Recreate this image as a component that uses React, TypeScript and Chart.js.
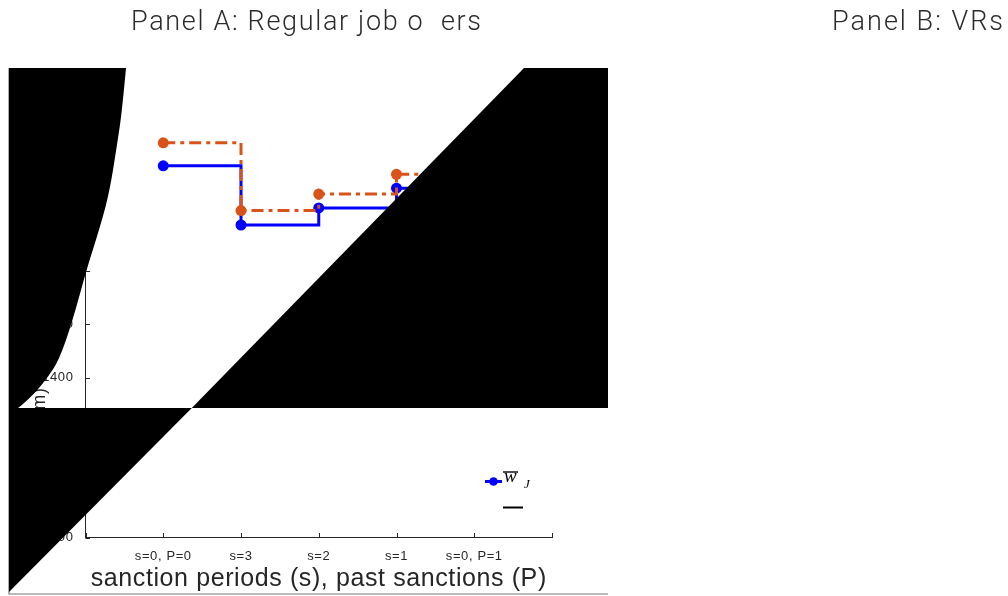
import React, { useEffect, useRef } from 'react';
import { Chart, registerables } from 'chart.js';

Chart.register(...registerables);

// ---------------- data ----------------
const xTickLabels = ['', 's=0, P=0', 's=3', 's=2', 's=1', 's=0, P=1', ''];
const xPositions = [1, 2, 3, 4, 5];
const wBarJ = [1797, 1686, 1718, 1755, 1768];
const wLowerJ = [1840, 1713, 1744, 1781, 1795];
const yLabeledTicks = [1100, 1200, 1300, 1400, 1500, 1600];
const yAxisMin = 1100;
const yAxisMax = 1980;

const panelATitle = 'Panel A: Regular job o  ers';
const panelBTitle = 'Panel B: VRs';
const xAxisTitle = 'sanction periods (s), past sanctions (P)';
const yAxisTitle = '(€/m)';

// rendering-artefact shapes (black fills), in axis data units
const blobCurveX = [0.521, 0.47, 0.41, 0.3, 0.14, 0.019, -0.174, -0.341, -0.482, -0.65, -0.817, -0.868];
const blobCurveY = [1980.3, 1900, 1840, 1740, 1660, 1605.3, 1502.2, 1432.8, 1400.9, 1370.9, 1348.4, 1342.8];
const blobEdgeX = [-0.984, -0.984];
const blobEdgeY = [1342.8, 1980.3];
const upperWedgeX = [5.64, 6.72, 6.72, 1.367];
const upperWedgeY = [1980.3, 1980.3, 1342.8, 1342.8];
const lowerWedgeX = [-0.984, 1.367, -0.984];
const lowerWedgeY = [1342.8, 1342.8, 997.8];
const frameX = [-0.984, -0.984, 6.72];
const frameY = [1980.3, 994.1, 994.1];

const sans = '"Liberation Sans", Arial, Helvetica, sans-serif';
const ink = '#262626';
const blue = '#0000FF';
const orange = '#D95319';

function fitText(ctx: CanvasRenderingContext2D, text: string, x0: number, x1: number, baseline: number) {
  (ctx as any).letterSpacing = '0px';
  const w = ctx.measureText(text).width;
  const n = Array.from(text).length;
  const sp = (x1 - x0 - w) / Math.max(1, n - 1);
  (ctx as any).letterSpacing = sp + 'px';
  ctx.textAlign = 'left';
  ctx.textBaseline = 'alphabetic';
  ctx.fillText(text, x0, baseline);
  (ctx as any).letterSpacing = '0px';
}

const artefactPlugin = {
  id: 'artefacts',
  beforeDraw(chart: any) {
    chart.ctx.letterSpacing = '0.6px';
  },
  afterDraw(chart: any) {
    const { ctx, chartArea } = chart;
    const xs = chart.scales.x;
    const ys = chart.scales.y;
    const px = (v: number) => xs.getPixelForValue(v);
    const py = (v: number) => ys.getPixelForValue(v);
    ctx.save();
    ctx.letterSpacing = '0px';

    // inward tick marks
    ctx.strokeStyle = ink;
    ctx.lineWidth = 1;
    ctx.beginPath();
    for (let v = 0; v < xTickLabels.length; v++) {
      const x = Math.round(px(v)) + 0.5;
      ctx.moveTo(x, chartArea.bottom);
      ctx.lineTo(x, chartArea.bottom - 4.5);
    }
    for (const v of yLabeledTicks) {
      const y = Math.round(py(v)) + 0.5;
      ctx.moveTo(chartArea.left, y);
      ctx.lineTo(chartArea.left + 4.5, y);
    }
    ctx.stroke();

    // y-axis title (rotated, reading upwards)
    ctx.save();
    ctx.translate(chartArea.left - 45, py(1382));
    ctx.rotate(-Math.PI / 2);
    ctx.font = `18px ${sans}`;
    ctx.fillStyle = ink;
    ctx.textAlign = 'right';
    ctx.textBaseline = 'middle';
    ctx.letterSpacing = '0.8px';
    ctx.fillText(yAxisTitle, 0, 0);
    ctx.restore();

    // legend
    const lx = chartArea.right - 67;
    const ly = chartArea.bottom - 56;
    ctx.strokeStyle = blue;
    ctx.lineWidth = 3;
    ctx.beginPath();
    ctx.moveTo(lx, ly);
    ctx.lineTo(lx + 17, ly);
    ctx.stroke();
    ctx.fillStyle = blue;
    ctx.beginPath();
    ctx.arc(lx + 8.5, ly, 4.3, 0, Math.PI * 2);
    ctx.fill();
    ctx.fillStyle = '#000';
    ctx.font = `italic 19px "Liberation Serif", "DejaVu Serif", serif`;
    ctx.textAlign = 'left';
    ctx.textBaseline = 'alphabetic';
    ctx.fillText('w', lx + 19, ly + 0.5);
    ctx.font = `italic 13px "Liberation Serif", "DejaVu Serif", serif`;
    ctx.fillText('J', lx + 39, ly + 6);
    ctx.strokeStyle = '#000';
    ctx.lineWidth = 1.4;
    ctx.beginPath();
    ctx.moveTo(lx + 18, ly - 9.5);
    ctx.lineTo(lx + 33, ly - 9.5);
    ctx.stroke();
    ctx.lineWidth = 2;
    ctx.beginPath();
    ctx.moveTo(lx + 18, ly + 26);
    ctx.lineTo(lx + 38, ly + 26);
    ctx.stroke();

    // frame lines
    ctx.strokeStyle = '#777';
    ctx.lineWidth = 1.2;
    ctx.beginPath();
    frameX.forEach((v, i) => {
      const X = px(v);
      const Y = py(frameY[i]);
      if (i === 0) ctx.moveTo(X, Y);
      else ctx.lineTo(X, Y);
    });
    ctx.stroke();

    // black artefact shapes
    ctx.fillStyle = '#000';
    const poly = (xsArr: number[], ysArr: number[]) => {
      ctx.beginPath();
      xsArr.forEach((v, i) => {
        const X = px(v);
        const Y = py(ysArr[i]);
        if (i === 0) ctx.moveTo(X, Y);
        else ctx.lineTo(X, Y);
      });
      ctx.closePath();
      ctx.fill();
    };
    // smooth curved blob on the left
    ctx.beginPath();
    const cp = blobCurveX.map((v, i) => [px(v), py(blobCurveY[i])]);
    ctx.moveTo(cp[0][0], cp[0][1]);
    for (let i = 1; i < cp.length - 1; i++) {
      const mx = (cp[i][0] + cp[i + 1][0]) / 2;
      const my = (cp[i][1] + cp[i + 1][1]) / 2;
      ctx.quadraticCurveTo(cp[i][0], cp[i][1], mx, my);
    }
    ctx.lineTo(cp[cp.length - 1][0], cp[cp.length - 1][1]);
    blobEdgeX.forEach((v, i) => ctx.lineTo(px(v), py(blobEdgeY[i])));
    ctx.closePath();
    ctx.fill();
    poly(upperWedgeX, upperWedgeY);
    poly(lowerWedgeX, lowerWedgeY);

    // panel titles
    ctx.fillStyle = '#2b2b2b';
    ctx.font = `300 27px Roboto, ${sans}`;
    fitText(ctx, panelATitle, 131, 481, 30);
    fitText(ctx, panelBTitle, 832, 1003, 30);

    ctx.restore();
  },
};

export default function App() {
  const ref = useRef<HTMLCanvasElement | null>(null);

  useEffect(() => {
    if (!ref.current) return;
    const chart = new Chart(ref.current, {
      type: 'line',
      data: {
        datasets: [
          {
            label: 'w̲_J',
            data: xPositions.map((x, i) => ({ x, y: wLowerJ[i] })),
            borderColor: orange,
            backgroundColor: orange,
            borderWidth: 3,
            borderDash: [12, 5, 4, 5],
            borderCapStyle: 'butt',
            borderJoinStyle: 'round',
            stepped: 'before',
            pointRadius: 5.5,
            pointBorderWidth: 0,
            pointBackgroundColor: orange,
            fill: false,
            order: 0,
          },
          {
            label: 'w̄_J',
            data: xPositions.map((x, i) => ({ x, y: wBarJ[i] })),
            borderColor: blue,
            backgroundColor: blue,
            borderWidth: 3,
            borderJoinStyle: 'miter',
            stepped: 'before',
            pointRadius: 5.5,
            pointBorderWidth: 0,
            pointBackgroundColor: blue,
            fill: false,
            order: 1,
          },
        ],
      },
      options: {
        animation: false,
        responsive: true,
        maintainAspectRatio: false,
        layout: { padding: { left: 0, right: 456, top: 68.2, bottom: 0 } },
        plugins: {
          legend: { display: false },
          tooltip: { enabled: false },
          title: { display: false },
        },
        scales: {
          x: {
            type: 'linear',
            min: 0,
            max: xTickLabels.length - 1,
            afterFit: (s: any) => {
              s.height = 58.5;
            },
            grid: { display: false },
            border: { display: true, color: ink, width: 1 },
            ticks: {
              stepSize: 1,
              autoSkip: false,
              maxRotation: 0,
              padding: 3,
              color: ink,
              font: { family: sans, size: 13 },
              callback: (v: any) => xTickLabels[v] ?? '',
            },
            title: {
              display: true,
              text: xAxisTitle,
              color: ink,
              font: { family: sans, size: 25 },
              padding: { top: 0, bottom: 2 },
            },
          },
          y: {
            type: 'linear',
            min: yAxisMin,
            max: yAxisMax,
            afterFit: (s: any) => {
              s.width = 85.5;
            },
            afterBuildTicks: (s: any) => {
              s.ticks = s.ticks.filter((t: any) => t.value % 100 === 0);
            },
            grid: { display: false },
            border: { display: true, color: ink, width: 1 },
            ticks: {
              stepSize: 100,
              padding: 4,
              color: ink,
              font: { family: sans, size: 13 },
              callback: (v: any) => String(v),
            },
          },
        },
      } as any,
      plugins: [artefactPlugin],
    });
    return () => chart.destroy();
  }, []);

  return (
    <div style={{ position: 'absolute', left: 0, top: 0, width: 1008, height: 596, background: '#fff' }}>
      <canvas ref={ref} />
    </div>
  );
}
